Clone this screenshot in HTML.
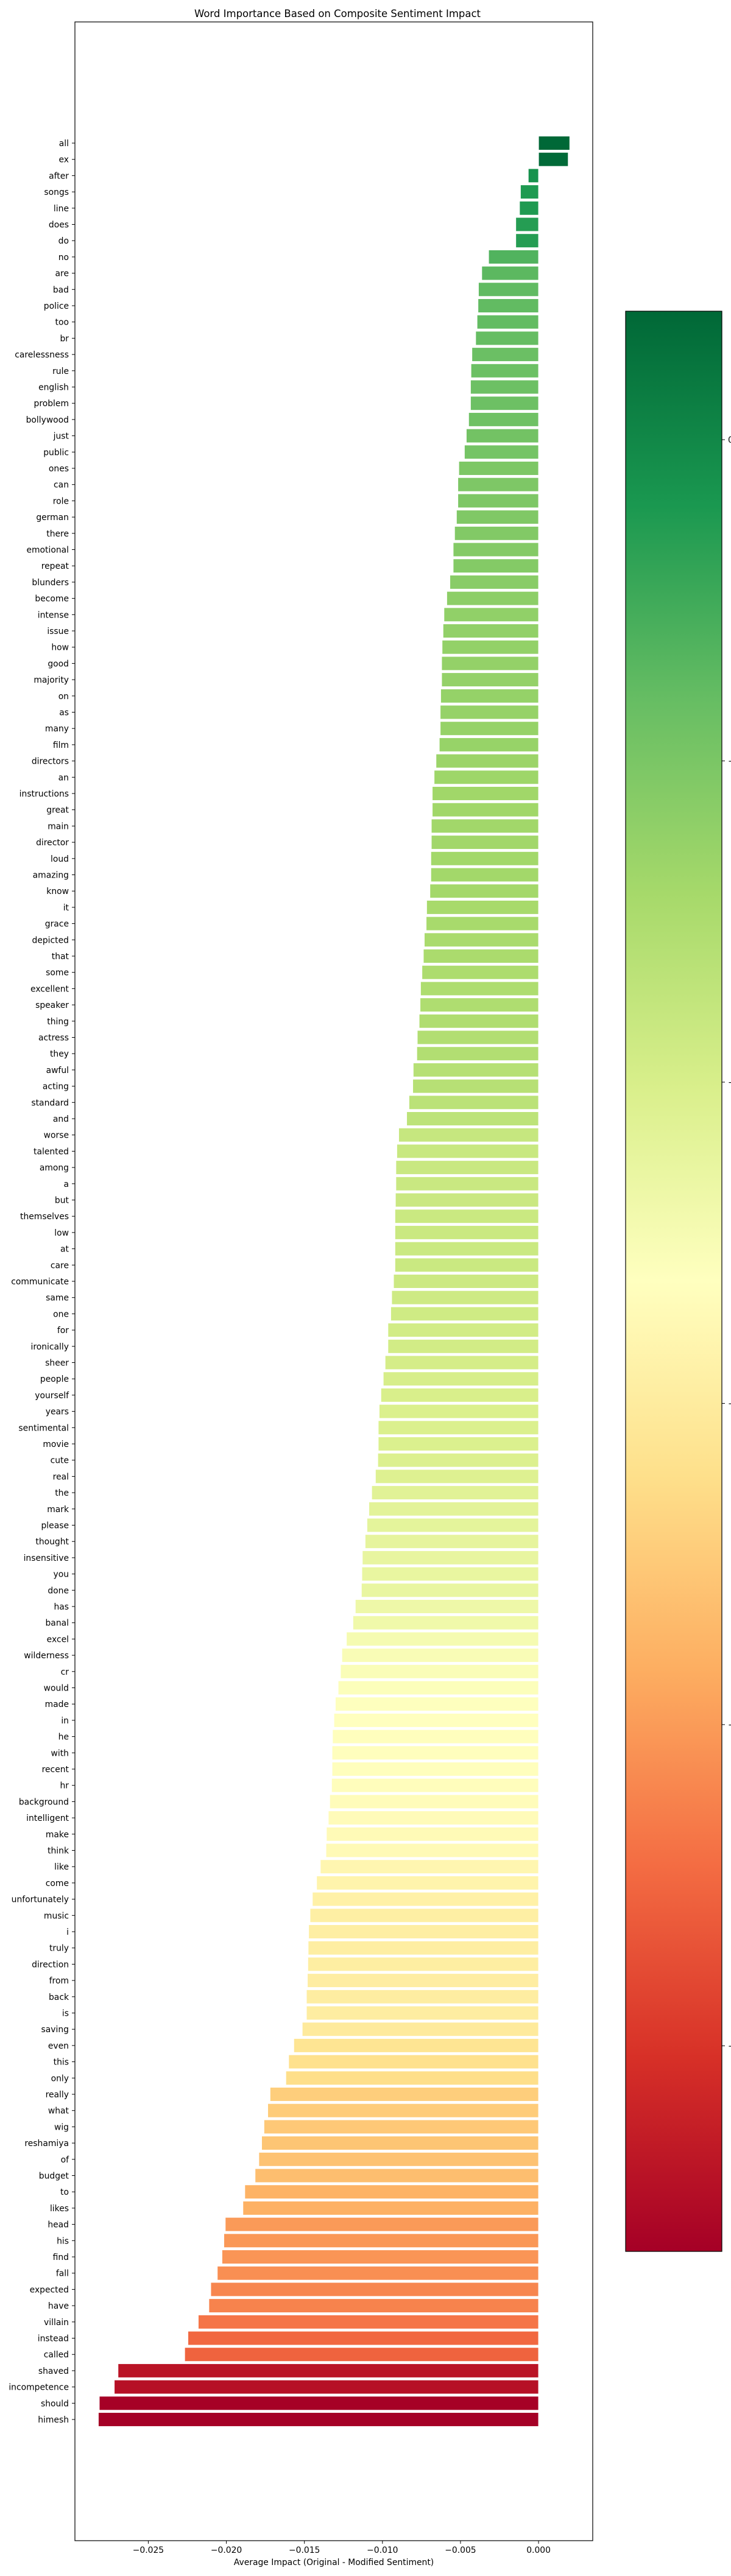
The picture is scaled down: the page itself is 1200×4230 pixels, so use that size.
<!DOCTYPE html>
<html><head><meta charset="utf-8"><style>
html,body{margin:0;padding:0;background:#fff;width:1200px;height:4230px;overflow:hidden}
svg{display:block}
text{font-family:"DejaVu Sans","Liberation Sans",sans-serif;fill:#000}
</style></head><body>
<svg id="chart" width="1200" height="4230" viewBox="0 0 1200 4230" xmlns="http://www.w3.org/2000/svg">
<text x="554" y="28" font-size="16.5" text-anchor="middle">Word Importance Based on Composite Sentiment Impact</text>
<g id="bars"></g>
<g id="yaxis"></g>
<g id="xaxis"></g>
<rect x="123" y="36" width="850" height="4136" fill="none" stroke="#000" stroke-width="1.2"/>
<text x="548" y="4212" font-size="13.9" text-anchor="middle">Average Impact (Original - Modified Sentiment)</text>
<defs><linearGradient id="cmapgrad" x1="0" y1="1" x2="0" y2="0"></linearGradient></defs>
<g id="colorbar"></g>
</svg>
<script>
const words = ["all","ex","after","songs","line","does","do","no","are","bad","police","too","br","carelessness","rule","english","problem","bollywood","just","public","ones","can","role","german","there","emotional","repeat","blunders","become","intense","issue","how","good","majority","on","as","many","film","directors","an","instructions","great","main","director","loud","amazing","know","it","grace","depicted","that","some","excellent","speaker","thing","actress","they","awful","acting","standard","and","worse","talented","among","a","but","themselves","low","at","care","communicate","same","one","for","ironically","sheer","people","yourself","years","sentimental","movie","cute","real","the","mark","please","thought","insensitive","you","done","has","banal","excel","wilderness","cr","would","made","in","he","with","recent","hr","background","intelligent","make","think","like","come","unfortunately","music","i","truly","direction","from","back","is","saving","even","this","only","really","what","wig","reshamiya","of","budget","to","likes","head","his","find","fall","expected","have","villain","instead","called","shaved","incompetence","should","himesh"];
const impacts = [0.0020,0.0019,-0.00066,-0.00116,-0.00122,-0.00146,-0.00146,-0.0032,-0.00364,-0.00385,-0.00388,-0.00394,-0.00403,-0.00427,-0.00433,-0.00436,-0.00436,-0.00448,-0.00463,-0.00475,-0.00511,-0.00517,-0.00517,-0.00526,-0.00538,-0.00547,-0.00547,-0.00568,-0.00588,-0.00606,-0.00612,-0.00618,-0.00621,-0.00621,-0.00627,-0.0063,-0.0063,-0.00636,-0.00657,-0.00669,-0.00681,-0.00681,-0.00687,-0.00687,-0.0069,-0.0069,-0.00696,-0.00717,-0.0072,-0.00732,-0.00738,-0.00747,-0.00756,-0.00759,-0.00765,-0.00777,-0.0078,-0.00803,-0.00806,-0.0083,-0.00845,-0.00896,-0.00908,-0.00914,-0.00914,-0.00917,-0.0092,-0.0092,-0.0092,-0.0092,-0.00929,-0.00941,-0.00947,-0.00965,-0.00965,-0.00983,-0.00995,-0.0101,-0.01021,-0.01027,-0.01027,-0.0103,-0.01045,-0.01069,-0.01087,-0.01099,-0.01111,-0.01129,-0.01132,-0.01135,-0.01174,-0.01189,-0.01231,-0.0126,-0.01269,-0.01284,-0.01302,-0.01311,-0.0132,-0.01323,-0.01323,-0.01326,-0.01338,-0.01347,-0.01359,-0.01362,-0.01398,-0.01422,-0.01449,-0.01464,-0.01473,-0.01476,-0.01478,-0.01481,-0.01487,-0.01487,-0.01514,-0.01568,-0.01601,-0.01619,-0.0172,-0.01735,-0.01759,-0.01774,-0.01792,-0.01816,-0.01882,-0.01894,-0.02007,-0.02016,-0.02028,-0.02058,-0.021,-0.02112,-0.0218,-0.02246,-0.02267,-0.02694,-0.02718,-0.02814,-0.0282];
const xTicks = [-0.025,-0.020,-0.015,-0.010,-0.005,0.000];
const xTickLabels = ["\u22120.025","\u22120.020","\u22120.015","\u22120.010","\u22120.005","0.000"];
const cbTicks = [0.000,-0.005,-0.010,-0.015,-0.020,-0.025];
const cbTickLabels = ["0.000","\u22120.005","\u22120.010","\u22120.015","\u22120.020","\u22120.025"];
const cmapStops = ["#a50026","#d73027","#f46d43","#fdae61","#fee08b","#ffffbf","#d9ef8b","#a6d96a","#66bd63","#1a9850","#006837"];

const NS="http://www.w3.org/2000/svg";
function mk(tag,attrs,parent){const e=document.createElementNS(NS,tag);for(const k in attrs)e.setAttribute(k,attrs[k]);parent.appendChild(e);return e;}
// axes
const x0=123,x1=973,xmin=-0.0297,xmax=0.00347;
function xs(v){return x0+(v-xmin)/(xmax-xmin)*(x1-x0);}
const yFirst=235,yLast=3973;
function ys(i){return yFirst+i*(yLast-yFirst)/(words.length-1);}
const step=(yLast-yFirst)/(words.length-1);
const vmin=Math.min(...impacts),vmax=Math.max(...impacts);
function hex(h){return [parseInt(h.slice(1,3),16),parseInt(h.slice(3,5),16),parseInt(h.slice(5,7),16)];}
function cmap(t){t=Math.max(0,Math.min(1,t));const p=t*(cmapStops.length-1);const i=Math.min(Math.floor(p),cmapStops.length-2);const f=p-i;const a=hex(cmapStops[i]),b=hex(cmapStops[i+1]);return "rgb("+a.map((c,k)=>Math.round(c+(b[k]-c)*f)).join(",")+")";}

const gb=document.getElementById('bars'),gy=document.getElementById('yaxis'),gx=document.getElementById('xaxis');
words.forEach((w,i)=>{
  const v=impacts[i],cy=ys(i),h=step*0.86;
  const xa=Math.min(xs(0),xs(v)),xb=Math.max(xs(0),xs(v));
  const r=mk('rect',{x:xa,y:cy-h/2,width:xb-xa,height:h,fill:cmap((v-vmin)/(vmax-vmin)),stroke:'#fff','stroke-width':1},gb);
  
  
  const t=mk('line',{x1:118,x2:123,y1:cy,y2:cy,stroke:'#000','stroke-width':1},gy);
  
  
  const l=mk('text',{x:113,y:cy+5,'font-size':13.9,'text-anchor':'end'},gy);
  l.textContent=w;
  
  
});
xTicks.forEach((v,i)=>{
  const x=xs(v);
  const t=mk('line',{x1:x,x2:x,y1:4172,y2:4177,stroke:'#000','stroke-width':1},gx);
  
  
  const l=mk('text',{x:x,y:4192,'font-size':13.9,'text-anchor':'middle'},gx);
  l.textContent=xTickLabels[i];
  
  
});
// colorbar
const cbTop=511,cbBot=3697,cbL=1027,cbR=1185;
function cby(v){return cbBot-(v-vmin)/(vmax-vmin)*(cbBot-cbTop);}
const grad=document.getElementById('cmapgrad');
cmapStops.forEach((c,i)=>{mk('stop',{offset:(i/(cmapStops.length-1)),'stop-color':c},grad);});
const gc=document.getElementById('colorbar');
const cr=mk('rect',{x:cbL,y:cbTop,width:cbR-cbL,height:cbBot-cbTop,fill:'url(#cmapgrad)',stroke:'#000','stroke-width':1.2},gc);


cbTicks.forEach((v,i)=>{
  const y=cby(v);
  const t=mk('line',{x1:cbR,x2:cbR+5,y1:y,y2:y,stroke:'#000','stroke-width':1},gc);
  
  
  const l=mk('text',{x:cbR+10,y:y+5,'font-size':13.9},gc);
  l.textContent=cbTickLabels[i];
  
  
});
</script>
</body></html>
